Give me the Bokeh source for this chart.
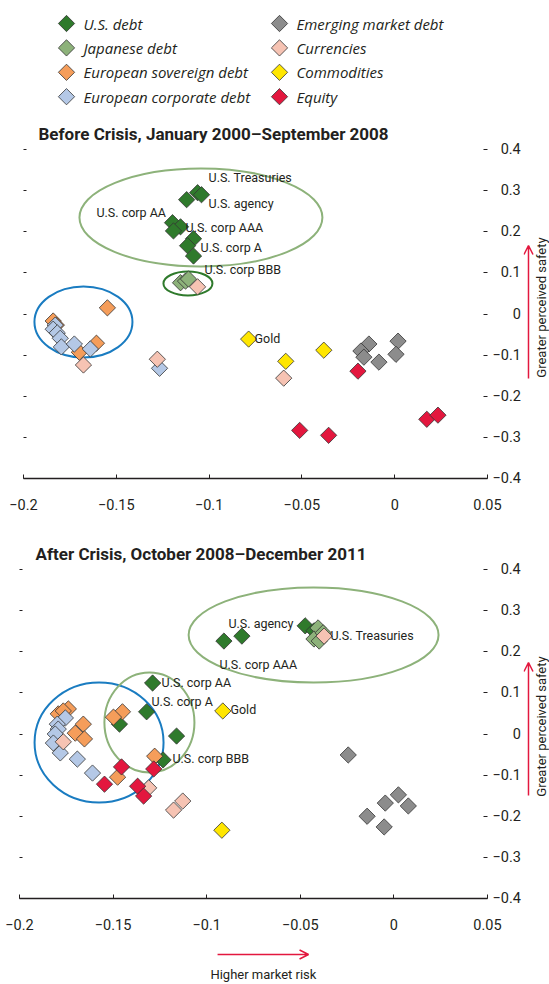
import numpy as np
from bokeh.plotting import figure
from bokeh.models import (Range1d, FixedTicker, LinearAxis, Label, PolyAnnotation, ColumnDataSource)
from bokeh.layouts import column, row
from bokeh.embed import file_html
from bokeh.resources import INLINE
from bokeh.core.properties import value

# ---------------- data ----------------
categories = ["U.S. debt", "Japanese debt", "European sovereign debt", "European corporate debt",
              "Emerging market debt", "Currencies", "Commodities", "Equity"]
colors = ["#2f7a2c", "#8db27a", "#f59d5a", "#b4c8e6", "#8c8c8c", "#f6c3b3", "#ffe600", "#e3173e"]

x_ticks = [-0.2, -0.15, -0.1, -0.05, 0.0, 0.05]
x_tick_labels = ["\u22120.2", "\u22120.15", "\u22120.1", "\u22120.05", "0", "0.05"]
y_ticks = [-0.4, -0.3, -0.2, -0.1, 0.0, 0.1, 0.2, 0.3, 0.4]
y_tick_labels = ["\u22120.4", "\u22120.3", "\u22120.2", "\u22120.1", "\u2007\u2007\u20080",
                 "\u20070.1", "\u20070.2", "\u20070.3", "\u20070.4"]

# Before crisis
b_us_x = [-0.1121, -0.1062, -0.1041, -0.1197, -0.1154, -0.1192, -0.1084, -0.1116, -0.1084]
b_us_y = [0.278, 0.295, 0.290, 0.222, 0.212, 0.202, 0.183, 0.166, 0.141]
b_jp_x = [-0.1154, -0.1127, -0.1111]
b_jp_y = [0.076, 0.080, 0.085]
b_es_x = [-0.1548, -0.1840, -0.1823, -0.1699, -0.1607]
b_es_y = [0.015, -0.017, -0.027, -0.093, -0.071]
b_ec_x = [-0.1829, -0.1840, -0.1818, -0.1802, -0.1796, -0.1726, -0.1640, -0.1267]
b_ec_y = [-0.027, -0.037, -0.046, -0.059, -0.080, -0.073, -0.085, -0.132]
b_em_x = [-0.0139, -0.0182, -0.0166, -0.0085, 0.0018, 0.0007]
b_em_y = [-0.073, -0.090, -0.105, -0.117, -0.066, -0.098]
b_cur_x = [-0.1677, -0.1279, -0.1062, -0.0598]
b_cur_y = [-0.124, -0.110, 0.066, -0.156]
b_com_x = [-0.0787, -0.0587, -0.0382]
b_com_y = [-0.061, -0.115, -0.088]
b_eq_x = [-0.0198, -0.0512, -0.0356, 0.0173, 0.0233]
b_eq_y = [-0.139, -0.283, -0.295, -0.256, -0.246]

# After crisis
a_us_x = [-0.0908, -0.0812, -0.1289, -0.1321, -0.1466, -0.1161, -0.1233, -0.0474, -0.0427]
a_us_y = [0.226, 0.238, 0.124, 0.054, 0.024, -0.005, -0.063, 0.263, 0.251]
a_jp_x = [-0.0405, -0.0427, -0.0399, -0.0378]
a_jp_y = [0.258, 0.231, 0.226, 0.246]
a_es_x = [-0.1450, -0.1498, -0.1739, -0.1793, -0.1766, -0.1659, -0.1702, -0.1653, -0.1278, -0.1476]
a_es_y = [0.054, 0.041, 0.061, 0.049, 0.056, 0.024, 0.002, -0.012, -0.054, -0.105]
a_ec_x = [-0.1755, -0.1798, -0.1793, -0.1809, -0.1819, -0.1782, -0.1691, -0.1610]
a_ec_y = [0.039, 0.024, 0.012, 0.0, -0.022, -0.046, -0.061, -0.095]
a_em_x = [-0.0244, 0.0024, -0.0046, 0.0077, -0.0143, -0.0052]
a_em_y = [-0.051, -0.148, -0.168, -0.175, -0.200, -0.226]
a_cur_x = [-0.1766, -0.1310, -0.1128, -0.1177, -0.0373]
a_cur_y = [-0.019, -0.131, -0.163, -0.185, 0.238]
a_com_x = [-0.0914, -0.0919]
a_com_y = [0.056, -0.234]
a_eq_x = [-0.1455, -0.1283, -0.1546, -0.1369, -0.1337]
a_eq_y = [-0.080, -0.085, -0.122, -0.127, -0.151]

before_series = [(b_us_x, b_us_y), (b_jp_x, b_jp_y), (b_es_x, b_es_y), (b_ec_x, b_ec_y),
                 (b_em_x, b_em_y), (b_cur_x, b_cur_y), (b_com_x, b_com_y), (b_eq_x, b_eq_y)]
after_series = [(a_us_x, a_us_y), (a_jp_x, a_jp_y), (a_es_x, a_es_y), (a_ec_x, a_ec_y),
                (a_em_x, a_em_y), (a_cur_x, a_cur_y), (a_com_x, a_com_y), (a_eq_x, a_eq_y)]

# annotations (labels and ellipses)
b_labels = ["U.S. Treasuries", "U.S. agency", "U.S. corp AA", "U.S. corp AAA", "U.S. corp A", "U.S. corp BBB", "Gold"]
b_label_x = [-0.1003, -0.1003, -0.1607, -0.1127, -0.1046, -0.1025, -0.0755]
b_label_y = [0.3319, 0.2687, 0.2468, 0.2103, 0.1617, 0.1082, -0.0596]
a_labels = ["U.S. agency", "U.S. corp AAA", "U.S. Treasuries", "U.S. corp AA", "U.S. corp A", "Gold", "U.S. corp BBB"]
a_label_x = [-0.0884, -0.0932, -0.0339, -0.1241, -0.1295, -0.0873, -0.1183]
a_label_y = [0.2687, 0.169, 0.2395, 0.1252, 0.079, 0.0596, -0.0596]

b_ell_x = [-0.1044, -0.1114, -0.1677]
b_ell_y = [0.2347, 0.0742, -0.0195]
b_ell_w = [0.1309, 0.0264, 0.0528]
b_ell_h = [0.2383, 0.0584, 0.1726]
b_ell_c = ["#8db27a", "#2f7a2c", "#1a7cc1"]
a_ell_x = [-0.0429, -0.1575, -0.1306]
a_ell_y = [0.2407, -0.0207, 0.028]
a_ell_w = [0.1335, 0.0689, 0.0481]
a_ell_h = [0.231, 0.2918, 0.2432]
a_ell_c = ["#8db27a", "#1a7cc1", "#8db27a"]

FONT = "Roboto"
TXT = "#231f20"
RED = "#e3173e"
MARK = dict(marker="square", angle=np.pi / 4, size=11.5, line_color="#333333", line_width=0.8)


def blank_fig(width, height, x_range, y_range, top=0, bottom=0, left=0, right=0):
    f = figure(width=width, height=height, x_range=x_range, y_range=y_range,
               output_backend="svg", toolbar_location=None, x_axis_location=None, y_axis_location=None,
               min_border_top=top, min_border_bottom=bottom, min_border_left=left, min_border_right=right,
               frame_width=width - left - right, frame_height=height - top - bottom)
    f.grid.visible = False
    f.outline_line_color = None
    return f


def make_panel(title, series, labels, lx, ly, ex, ey, ew, eh, ec,
               width, height, b_top, b_left, fw, title_offset, title_standoff):
    p = figure(width=width, height=height, x_range=Range1d(-0.2, 0.05), y_range=Range1d(-0.4, 0.4),
               output_backend="svg", toolbar_location=None, x_axis_location=None, y_axis_location=None,
               min_border_top=b_top, min_border_bottom=height - b_top - 329, min_border_left=b_left,
               min_border_right=width - b_left - fw, frame_width=fw, frame_height=329,
               title=title)
    p.grid.visible = False
    p.outline_line_color = None
    p.title.text_font = FONT
    p.title.text_font_size = "17px"
    p.title.text_font_style = "bold"
    p.title.text_color = TXT
    p.title.offset = title_offset
    p.title.standoff = title_standoff

    xaxis = LinearAxis(ticker=FixedTicker(ticks=x_ticks),
                       major_label_overrides=dict(zip(x_ticks, x_tick_labels)))
    xaxis.major_tick_in = 4
    xaxis.major_tick_out = 0
    xaxis.minor_tick_line_color = None
    xaxis.axis_line_color = TXT
    xaxis.axis_line_width = 1.3
    xaxis.major_tick_line_color = TXT
    xaxis.major_label_standoff = 20
    xaxis.major_label_text_font = FONT
    xaxis.major_label_text_font_size = "14.5px"
    xaxis.major_label_text_color = TXT
    p.add_layout(xaxis, "below")

    raxis = LinearAxis(ticker=FixedTicker(ticks=y_ticks),
                       major_label_overrides=dict(zip(y_ticks, y_tick_labels)))
    raxis.major_tick_in = 4
    raxis.major_tick_out = 0
    raxis.minor_tick_line_color = None
    raxis.axis_line_color = None
    raxis.major_tick_line_color = TXT
    raxis.major_label_standoff = 5
    raxis.major_label_text_font = FONT
    raxis.major_label_text_font_size = "14.5px"
    raxis.major_label_text_color = TXT
    p.add_layout(raxis, "right")

    laxis = LinearAxis(ticker=FixedTicker(ticks=y_ticks),
                       major_label_overrides={t: "" for t in y_ticks})
    laxis.major_tick_in = 3
    laxis.major_tick_out = 0
    laxis.minor_tick_line_color = None
    laxis.axis_line_color = None
    laxis.major_tick_line_color = TXT
    laxis.major_label_standoff = 0
    laxis.major_label_text_font_size = "1px"
    p.add_layout(laxis, "left")

    p.ellipse(x=ex, y=ey, width=ew, height=eh, fill_color=None, line_color=ec, line_width=2)

    for (sx, sy), c in zip(series, colors):
        p.scatter(x=sx, y=sy, fill_color=c, **MARK)

    src = ColumnDataSource(dict(x=lx, y=ly, t=labels))
    p.text(x="x", y="y", text="t", source=src, text_font=value(FONT), text_font_size="12.5px",
           text_color=TXT, text_baseline="middle", text_align="left")
    return p


def arrow_poly(x0, y0, x1, y1, dw_x, dw_y):
    # open-headed arrow drawn as a retraced outline (stem + two wings)
    if x0 == x1:
        xs = [x0, x1, x1 - dw_x, x1, x1 + dw_x, x1]
        ys = [y0, y1, y1 - dw_y, y1, y1 - dw_y, y1]
    else:
        xs = [x0, x1, x1 - dw_x, x1, x1 - dw_x, x1]
        ys = [y0, y1, y1 + dw_y, y1, y1 - dw_y, y1]
    return PolyAnnotation(xs=xs, ys=ys, fill_alpha=0, line_color=RED, line_alpha=1.0, line_width=1.5)


# ---------------- legend strip (pixel-like units, y up) ----------------
LEG_W, LEG_H = 549, 112
KEY_COL_X = [47, 260]          # key centres of the two legend columns
ROW_TOP, ROW_STEP = 23, 24.4   # first row centre from top, row pitch
LABEL_GAP = 17
leg = blank_fig(LEG_W, LEG_H, Range1d(0, LEG_W), Range1d(0, LEG_H))
key_x = [KEY_COL_X[i // 4] for i in range(8)]
key_y = [LEG_H - ROW_TOP - (i % 4) * ROW_STEP for i in range(8)]
leg.scatter(x=key_x, y=key_y, fill_color=colors, **MARK)
leg.text(x=[k + LABEL_GAP for k in key_x], y=key_y, text=categories,
         text_font=value("Open Sans"), text_font_style="italic", text_font_size="15px",
         text_color=TXT, text_baseline="middle", text_align="left")

# ---------------- panels ----------------
p1 = make_panel("Before Crisis, January  2000\u2013September 2008", before_series,
                b_labels, b_label_x, b_label_y, b_ell_x, b_ell_y, b_ell_w, b_ell_h, b_ell_c,
                width=522, height=406, b_top=37, b_left=23, fw=464,
                title_offset=15, title_standoff=12)
p2 = make_panel("After Crisis, October 2008\u2013December 2011", after_series,
                a_labels, a_label_x, a_label_y, a_ell_x, a_ell_y, a_ell_w, a_ell_h, a_ell_c,
                width=522, height=420, b_top=51, b_left=19, fw=468,
                title_offset=16, title_standoff=12)

# ---------------- "greater perceived safety" strips ----------------
side1 = blank_fig(27, 406, Range1d(0, 1), p1.y_range, top=37, bottom=40)
side2 = blank_fig(27, 420, Range1d(0, 1), p2.y_range, top=51, bottom=40)
for s, (y0, y1, ytxt) in ((side1, (-0.157, 0.1666, 0.0158)), (side2, (-0.1495, 0.1739, 0.0182))):
    s.add_layout(arrow_poly(0.185, y0, 0.185, y1, 0.167, 0.0219))
    s.add_layout(Label(x=0.667, y=ytxt, text="Greater perceived safety", angle=np.pi / 2,
                       text_font=FONT, text_font_size="13px", text_color=TXT,
                       text_align="center", text_baseline="middle"))

# ---------------- "higher market risk" strip ----------------
bottom = blank_fig(549, 44, p2.x_range, Range1d(0, 44), left=19, right=62)
bottom.add_layout(arrow_poly(-0.0942, 28, -0.0456, 28, 0.0048, 4.5))
bottom.add_layout(Label(x=-0.0697, y=8, text="Higher market risk", text_font=FONT,
                        text_font_size="13px", text_color=TXT, text_align="center",
                        text_baseline="middle"))

layout = column(leg, row(p1, side1, spacing=0), row(p2, side2, spacing=0), bottom, spacing=0)
open("out.html", "w").write(file_html(layout, INLINE))
